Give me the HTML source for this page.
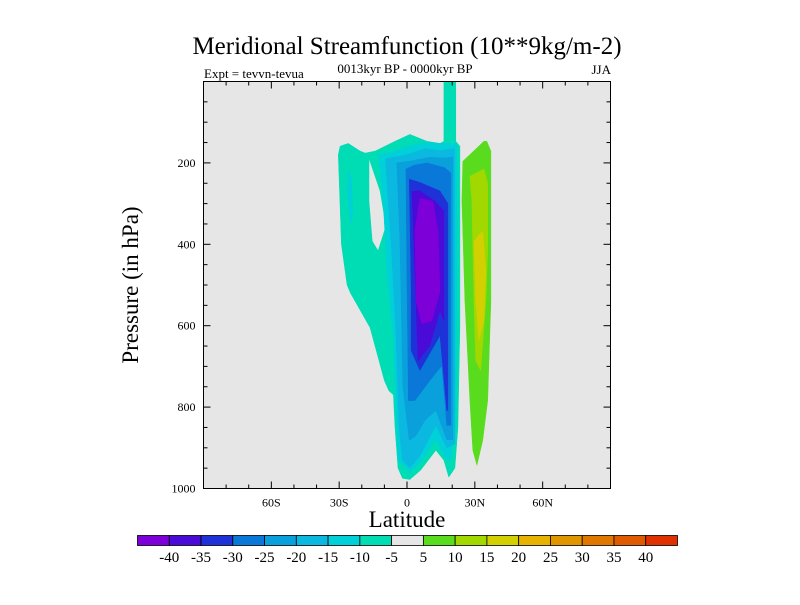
<!DOCTYPE html>
<html><head><meta charset="utf-8"><style>
body{margin:0;background:#fff;width:800px;height:600px;overflow:hidden}
svg text{font-family:"Liberation Serif",serif;fill:#000}
</style></head><body>
<svg id="chart" width="800" height="600" xmlns="http://www.w3.org/2000/svg">
<text x="407" y="54" font-size="25" text-anchor="middle">Meridional Streamfunction (10**9kg/m-2)</text>
<text x="405" y="73" font-size="13" text-anchor="middle">0013kyr BP - 0000kyr BP</text>
<text x="204" y="78" font-size="13">Expt = tevvn-tevua</text>
<text x="611" y="74" font-size="13" text-anchor="end">JJA</text>
<rect x="203.5" y="81.5" width="407" height="407" fill="#e6e6e6"/>
<g id="fills"></g>
<rect x="203.5" y="81.5" width="407" height="407" fill="none" stroke="#000" stroke-width="1"/>
<g id="axes"></g>
<text x="407" y="527" font-size="23" text-anchor="middle">Latitude</text>
<text transform="translate(138,285) rotate(-90)" font-size="23" text-anchor="middle">Pressure (in hPa)</text>
<g id="cbar"></g>
</svg>
<script>
const xTicks=[-60,-30,0,30,60];
const xTickLabels=["60S","30S","0","30N","60N"];
const yTicks=[200,400,600,800,1000];
const levels=[-40,-35,-30,-25,-20,-15,-10,-5,5,10,15,20,25,30,35,40];
const colors=["#7e00d8","#4a0ad8","#1e32d8","#0a78d8","#0aa0dc","#0ab8e0","#00d0d8","#00dcb4","#e6e6e6","#5adc1e","#a0d800","#d2d000","#e6b400","#e09600","#e07800","#e05a00","#e03200"];
// contour regions: [lat, pressure] pairs, level index into colors
const teal10=[[21.6,0],[16.3,0],[16.3,147],[14.6,152],[8.8,147],[1.3,130],[-5.3,147],[-14.1,171],[-18.5,176],[-20.7,171],[-26,152],[-29.6,159],[-30.4,180],[-29,400],[-26.5,500],[-25,520],[-16.3,605],[-10,735],[-8,760],[-6,770],[-5.3,850],[-4,950],[-2,975],[1.3,978],[6,955],[12.8,906],[16.3,931],[18.5,972],[21.2,950],[22.5,850],[23.4,600],[23.4,159],[21.6,147]];
const tealHole=[[-16.8,189],[-11.9,269],[-9.3,355],[-12.8,416],[-15.4,392],[-16.8,294]];
const cyanBlob=[[-26,220],[-24.5,240],[-24,330],[-25,350],[-26.2,280]];
const cyan15=[[-12.5,180],[-10.5,300],[-8.5,500],[-6,620],[-4.9,800],[-4,930],[1.3,960],[6,935],[12.8,880],[16.8,925],[19.5,930],[21.5,800],[22,500],[22,152],[14.6,152],[8,150],[0,160],[-6,172]];
const c20=[[-9.5,190],[-7,400],[-5,600],[-3.5,850],[-2,930],[1.3,950],[5.7,920],[12.8,845],[17.6,900],[21.2,890],[21,500],[21,165],[14.6,170],[8,165],[0,180]];
const c25=[[-4.5,200],[-3.1,400],[-1.8,750],[1,882],[4,870],[7.9,833],[12.8,808],[17.6,880],[20.3,880],[20.3,300],[20.3,185],[16.8,188],[10,186],[2,195]];
const c30=[[-0.5,215],[0,500],[0.6,784],[3.5,784],[10.1,735],[15.4,698],[17.6,845],[19.4,845],[19.4,225],[16.8,212],[8.8,200],[3,206]];
const c35=[[1,240],[1.8,500],[1.8,661],[5.7,710],[14.6,624],[17.6,808],[18.1,808],[18.1,300],[14.6,269],[5.7,248]];
const c40=[[2.2,270],[3,400],[4.9,686],[10.1,649],[14.6,563],[16.3,588],[16.3,318],[12.4,294],[5.5,268]];
const c45=[[5.7,287],[11.5,294],[13.7,367],[14.6,514],[11,588],[6.6,595],[4,539],[3.5,367]];
const g5=[[34,147],[24.7,196],[24.3,294],[25.6,539],[27.8,784],[29.1,906],[30.9,943],[33.5,882],[35.7,784],[37.1,539],[37.1,171],[35.3,147]];
const g10=[[27.8,233],[28.7,294],[29.6,539],[30.4,686],[32.6,710],[34.9,539],[35.7,416],[35.7,250],[34,215]];
const g15=[[29.6,392],[30.4,539],[31.8,637],[34,588],[34.9,465],[33.5,367]];
const regions=[[teal10,7,true],[cyanBlob,6],[cyan15,6],[c20,5],[c25,4],[c30,3],[c35,2],[c40,1],[c45,0],[g5,9],[g10,10],[g15,11]];
const regionNames=["contour-neg10","contour-neg15-blob","contour-neg15","contour-neg20","contour-neg25","contour-neg30","contour-neg35","contour-neg40","contour-below-neg40","contour-pos5","contour-pos10","contour-pos15"];

const X0=203.5,X1=610.5,Y0=81.5,Y1=488.5;
function xs(lat){return X0+(lat+90)/180*(X1-X0);}
function ys(p){return Y0+p/1000*(Y1-Y0);}
const NS="http://www.w3.org/2000/svg";
function mk(tag,attrs,parent){const e=document.createElementNS(NS,tag);for(const k in attrs)e.setAttribute(k,attrs[k]);parent.appendChild(e);return e;}
function pathOf(pts){return "M"+pts.map(q=>xs(q[0]).toFixed(1)+","+ys(q[1]).toFixed(1)).join("L")+"Z";}

const fills=document.getElementById("fills");
regions.forEach((r,i)=>{
  let d=pathOf(r[0]);
  if(r[2]) d+=pathOf(tealHole);
  const p=mk("path",{d:d,fill:colors[r[1]],"fill-rule":"evenodd","stroke":colors[r[1]],"stroke-width":"0.5","stroke-linejoin":"round"},fills);
  
  
});

const axes=document.getElementById("axes");
for(let lat=-80;lat<=80;lat+=10){
  const major=xTicks.indexOf(lat)>=0;const L=major?7:4;const x=xs(lat);
  const t1=mk("line",{x1:x,x2:x,y1:Y1,y2:Y1-L,stroke:"#000"},axes);
  
  
  const t2=mk("line",{x1:x,x2:x,y1:Y0,y2:Y0+L,stroke:"#000"},axes);
  
  
}
xTicks.forEach((v,i)=>{
  const t=mk("text",{x:xs(v),y:Y1+18,"font-size":"12","text-anchor":"middle"},axes);
  t.textContent=xTickLabels[i];
  
  
});
for(let p=50;p<1000;p+=50){
  const major=yTicks.indexOf(p)>=0;const L=major?7:4;const y=ys(p);
  const t1=mk("line",{x1:X0,x2:X0+L,y1:y,y2:y,stroke:"#000"},axes);
  
  
  const t2=mk("line",{x1:X1,x2:X1-L,y1:y,y2:y,stroke:"#000"},axes);
  
  
}
yTicks.forEach(v=>{
  const t=mk("text",{x:X0-8,y:ys(v)+4,"font-size":"12","text-anchor":"end"},axes);
  t.textContent=String(v);
  
  
});

const cb=document.getElementById("cbar");
const CB0=137.5,CB1=677.5,bw=(CB1-CB0)/colors.length;
colors.forEach((c,i)=>{
  const r=mk("rect",{x:CB0+i*bw,y:535.5,width:bw,height:10,fill:c,stroke:"#000","stroke-width":"0.8"},cb);
  
  
});
levels.forEach((v,i)=>{
  const t=mk("text",{x:CB0+(i+1)*bw,y:562,"font-size":"15","text-anchor":"middle"},cb);
  t.textContent=String(v);
  
  
});
</script>
</body></html>
